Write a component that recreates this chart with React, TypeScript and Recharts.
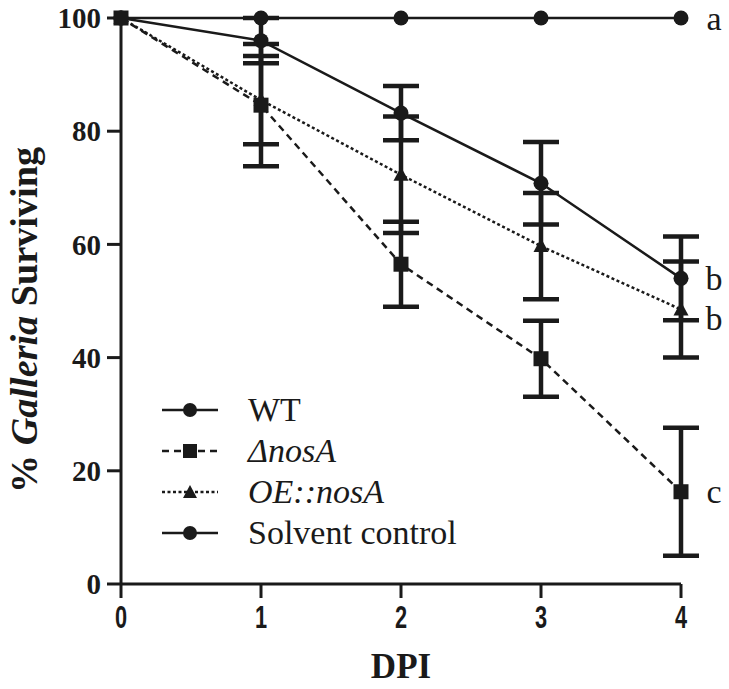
import React from 'react'
import { LineChart, Line, XAxis, YAxis, ErrorBar, Legend } from 'recharts'

const days = [0, 1, 2, 3, 4]
const wt = [100, 96, 83.2, 70.8, 54]
const wtErr = [0, 4, 4.8, 7.3, 7.4]
const dnosA = [100, 84.6, 56.5, 39.8, 16.3]
const dnosAErr = [0, 10.8, 7.5, 6.7, 11.3]
const oe = [100, 85.5, 72.3, 59.7, 48.5]
const oeErr = [0, 7.8, 10.3, 9.4, 8.5]
const solvent = [100, 100, 100, 100, 100]
const yTicks = [0, 20, 40, 60, 80, 100]
const xTicks = [0, 1, 2, 3, 4]

const data = days.map((d, i) => ({
  day: d,
  wt: wt[i],
  wtErr: wtErr[i],
  dnosA: dnosA[i],
  dnosAErr: dnosAErr[i],
  oe: oe[i],
  oeErr: oeErr[i],
  solvent: solvent[i]
}))

const INK = '#1a1a1a'
const SERIF = '"Liberation Serif", "Times New Roman", serif'
const SANS = '"Liberation Sans", Arial, sans-serif'

const circleDot = (props: any) => (
  <circle key={props.key} cx={props.cx} cy={props.cy} r={7.5} fill={INK} />
)
const squareDot = (props: any) => (
  <rect key={props.key} x={props.cx - 7.5} y={props.cy - 7.5} width={15} height={15} fill={INK} />
)
const triangleDot = (props: any) => (
  <path
    key={props.key}
    d={`M${props.cx},${props.cy - 8} L${props.cx + 7.5},${props.cy + 6} L${props.cx - 7.5},${props.cy + 6} Z`}
    fill={INK}
  />
)

const letterLabel = (letter: string, dy = 0) => (props: any) => {
  if (props.index !== days.length - 1) return <g key={props.index} />
  return (
    <text
      key={props.index}
      x={props.x + 33}
      y={props.y + dy}
      dominantBaseline="central"
      textAnchor="middle"
      fontFamily={SERIF}
      fontSize={34}
      fill={INK}
    >
      {letter}
    </text>
  )
}

const legendRows = [
  { name: 'WT', italic: false, dash: undefined, shape: 'circle' },
  { name: '\u0394nosA', italic: true, dash: '7 5', shape: 'square' },
  { name: 'OE::nosA', italic: true, dash: '3 2.5', shape: 'triangle' },
  { name: 'Solvent control', italic: false, dash: undefined, shape: 'circle' }
]

const CustomLegend = () => (
  <div>
    {legendRows.map((row) => (
      <div key={row.name} style={{ display: 'flex', alignItems: 'center', height: 41 }}>
        <svg width={60} height={20} style={{ marginRight: 28 }}>
          <line x1={2} y1={10} x2={58} y2={10} stroke={INK} strokeWidth={2.5} strokeDasharray={row.dash} />
          {row.shape === 'circle' && <circle cx={30} cy={10} r={7} fill={INK} />}
          {row.shape === 'square' && <rect x={23} y={3} width={14} height={14} fill={INK} />}
          {row.shape === 'triangle' && <path d="M30,3 L37,16 L23,16 Z" fill={INK} />}
        </svg>
        <span
          style={{
            fontFamily: SERIF,
            fontSize: 34,
            fontStyle: row.italic ? 'italic' : 'normal',
            color: INK,
            lineHeight: '41px',
            whiteSpace: 'nowrap'
          }}
        >
          {row.name}
        </span>
      </div>
    ))}
  </div>
)

const XTick = (props: any) => (
  <text
    x={props.x}
    y={props.y}
    transform={`translate(${props.x}, ${props.y + 28}) scale(0.68, 1) translate(${-props.x}, ${-props.y})`}
    textAnchor="middle"
    fontFamily={SANS}
    fontWeight={700}
    fontSize={32}
    fill={INK}
  >
    {props.payload.value}
  </text>
)

const YLabel = (props: any) => {
  const vb = props.viewBox
  const cx = vb.x + 24
  const cy = vb.y + 302
  return (
    <text
      transform={`rotate(-90, ${cx}, ${cy})`}
      x={cx}
      y={cy}
      textAnchor="middle"
      dominantBaseline="central"
      fontFamily={SERIF}
      fontWeight={700}
      fontSize={37}
      textLength={346}
      lengthAdjust="spacingAndGlyphs"
      fill={INK}
    >
      <tspan>% </tspan>
      <tspan fontStyle="italic">Galleria</tspan>
      <tspan> Surviving</tspan>
    </text>
  )
}

const XLabel = (props: any) => {
  const vb = props.viewBox
  return (
    <text
      x={vb.x + vb.width / 2}
      y={vb.y + 94}
      textAnchor="middle"
      fontFamily={SERIF}
      fontWeight={700}
      fontSize={35}
      fill={INK}
    >
      DPI
    </text>
  )
}

export default function App() {
  return (
    <div style={{ position: 'absolute', left: 0, top: 0, width: 729, height: 689, background: '#fff' }}>
      <LineChart
        width={729}
        height={689}
        data={data}
        margin={{ top: 18, right: 48, left: 0, bottom: 0 }}
      >
        <XAxis
          dataKey="day"
          type="number"
          domain={[0, 4]}
          ticks={xTicks}
          height={105}
          tickSize={14}
          axisLine={{ stroke: INK, strokeWidth: 3 }}
          tickLine={{ stroke: INK, strokeWidth: 3 }}
          tick={XTick}
          label={{ content: XLabel }}
        />
        <YAxis
          type="number"
          domain={[0, 100]}
          ticks={yTicks}
          width={121}
          tickSize={14}
          tickMargin={6}
          axisLine={{ stroke: INK, strokeWidth: 3 }}
          tickLine={{ stroke: INK, strokeWidth: 3 }}
          tick={{ fontFamily: SERIF, fontWeight: 700, fontSize: 29, fill: INK }}
          label={{ content: YLabel }}
        />
        <Legend
          layout="vertical"
          align="center"
          verticalAlign="middle"
          content={<CustomLegend />}
          wrapperStyle={{ position: 'absolute', left: 160, top: 389, width: 'auto', height: 'auto' }}
        />
        <Line
          dataKey="solvent"
          stroke={INK}
          strokeWidth={2.5}
          dot={circleDot}
          activeDot={false}
          label={letterLabel('a')}
          isAnimationActive={false}
        />
        <Line
          dataKey="wt"
          stroke={INK}
          strokeWidth={2.5}
          dot={circleDot}
          activeDot={false}
          label={letterLabel('b')}
          isAnimationActive={false}
        >
          <ErrorBar dataKey="wtErr" width={18} strokeWidth={4.5} stroke={INK} direction="y" />
        </Line>
        <Line
          dataKey="oe"
          stroke={INK}
          strokeWidth={2.5}
          strokeDasharray="3 2.5"
          dot={triangleDot}
          activeDot={false}
          label={letterLabel('b', 9)}
          isAnimationActive={false}
        >
          <ErrorBar dataKey="oeErr" width={18} strokeWidth={4.5} stroke={INK} direction="y" />
        </Line>
        <Line
          dataKey="dnosA"
          stroke={INK}
          strokeWidth={2.5}
          strokeDasharray="7 5"
          dot={squareDot}
          activeDot={false}
          label={letterLabel('c')}
          isAnimationActive={false}
        >
          <ErrorBar dataKey="dnosAErr" width={18} strokeWidth={4.5} stroke={INK} direction="y" />
        </Line>
      </LineChart>
    </div>
  )
}
